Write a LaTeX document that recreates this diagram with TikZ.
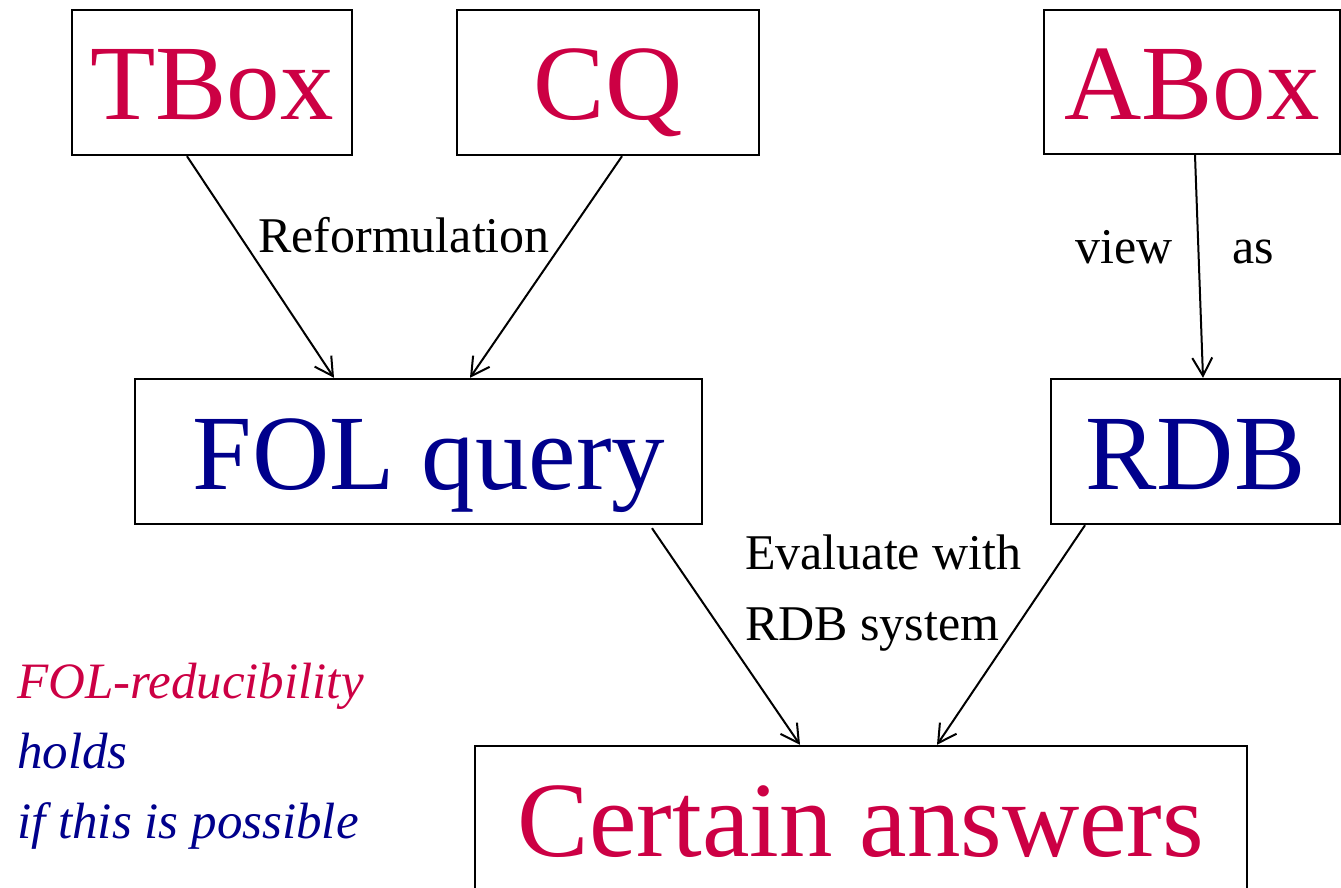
\documentclass[tikz,border=0pt]{standalone}
\usepackage{fontspec}
\setmainfont{Liberation Serif}
\usetikzlibrary{arrows.meta,calc}
\definecolor{kred}{RGB}{204,0,68}
\definecolor{kblue}{RGB}{0,0,140}
\begin{document}
\begin{tikzpicture}[x=1pt,y=-1pt,
  box/.style={draw,line width=2.4pt,inner sep=0pt,text height=75pt,text depth=0pt,
    font=\fontsize{107}{110}\selectfont},
  lbl/.style={inner sep=0pt,anchor=base west,font=\fontsize{50}{60}\selectfont},
  note/.style={lbl,font=\fontsize{51}{60}\selectfont\itshape},
  arr/.style={line width=2pt,-{Straight Barb[length=18pt,width=20pt]}}]
\useasboundingbox (0,0) rectangle (1341,888);
\node[box,minimum width=280pt,minimum height=145pt,text=kred] (tbox) at (212,82.5) {TBox};
\node[box,minimum width=302pt,minimum height=145pt,text=kred] (cq) at (608,82.5) {CQ};
\node[box,minimum width=296pt,minimum height=144pt,text=kred] (abox) at (1192,82) {ABox};
\node[box,minimum width=567pt,minimum height=145pt,text=kblue] (fol) at (418.5,451.5) {\hspace*{21pt}FOL query};
\node[box,minimum width=289pt,minimum height=145pt,text=kblue] (rdb) at (1195.5,451.5) {RDB};
\node[box,minimum width=772pt,minimum height=145pt,text=kred] (cert) at (861,818.5) {Certain answers};
\node[lbl] (reform) at (258,252) {Reformulation};
\node[lbl] (view) at (1075,263) {view};
\node[lbl] (as) at (1232,263) {as};
\node[lbl] (eval1) at (745,569) {Evaluate with};
\node[lbl] (eval2) at (745,640) {RDB system};
\node[note,text=kred] (n1) at (17,698) {FOL-reducibility};
\node[note,text=kblue] (n2) at (17,768) {holds};
\node[note,text=kblue] (n3) at (17,838) {if this is possible};
\draw[arr] ([xshift=-25pt]tbox.south) -- ([xshift=-84.5pt]fol.north);
\draw[arr] ([xshift=14pt]cq.south) -- ([xshift=51.5pt]fol.north);
\draw[arr] ([xshift=3pt]abox.south) -- ([xshift=7.5pt]rdb.north);
\draw[arr] ([xshift=233.5pt,yshift=-3pt]fol.south) -- ([xshift=-61pt]cert.north);
\draw[arr] ([xshift=-110.5pt]rdb.south) -- ([xshift=76pt]cert.north);
\end{tikzpicture}
\end{document}
